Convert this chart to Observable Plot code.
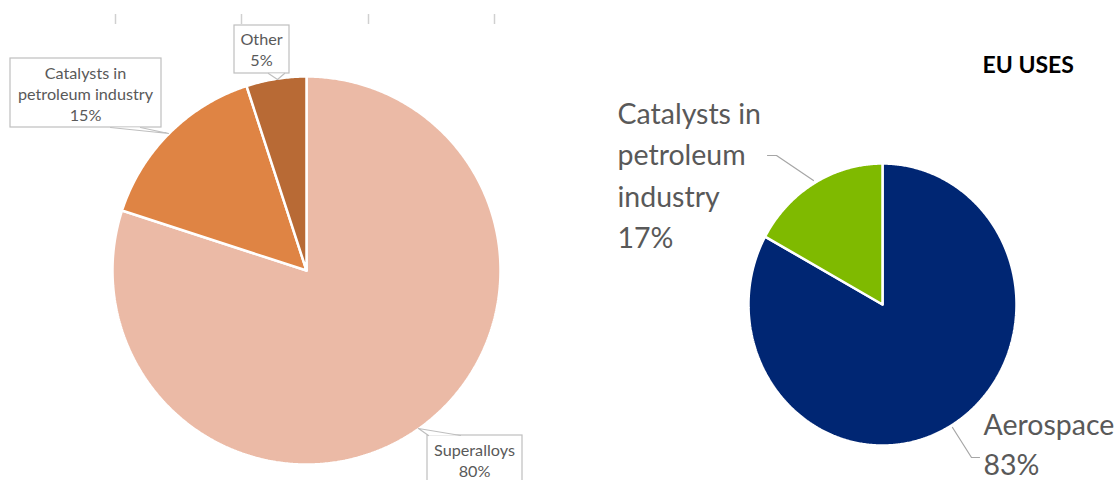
<!DOCTYPE html>
<html><head><meta charset="utf-8">
<script src="https://cdn.jsdelivr.net/npm/d3@7"></script>
<script src="https://cdn.jsdelivr.net/npm/@observablehq/plot@0.6"></script>
<style>
body{margin:0;background:#fff;}
#chart{width:1118px;height:480px;overflow:hidden;}
#chart svg{display:block;}
</style>
</head><body><div id="chart"></div>
<script>
// ---- data ----
const globalCategories = ["Superalloys", "Catalysts in petroleum industry", "Other"];
const globalShares = [80, 15, 5];
const globalColors = ["#EBBAA6", "#DF8444", "#B86A35"];

const euTitle = "EU USES";
const euCategories = ["Aerospace", "Catalysts in petroleum industry"];
const euShares = [83, 17];
const euColors = ["#002673", "#7FBA00"];

// wrapped label lines (text only)
const globalLabelLines = [["Superalloys"], ["Catalysts in", "petroleum industry"], ["Other"]];
const euLabelLines = [["Aerospace"], ["Catalysts in", "petroleum", "industry"]];

// ---- layout ----
const W = 1118, H = 480;
const LEFT = {cx: 306, cy: 270, rx: 194, ry: 194};
const RIGHT = {cx: 882, cy: 304, rx: 134, ry: 141};

function slicePolys(cats, shares, colors, P) {
  const total = d3.sum(shares);
  let acc = 0;
  return cats.map((c, i) => {
    const a0 = acc / total * 2 * Math.PI; acc += shares[i];
    const a1 = acc / total * 2 * Math.PI;
    const n = Math.max(2, Math.ceil((a1 - a0) / (Math.PI / 360)));
    const pts = [{x: P.cx, y: P.cy}];
    for (let k = 0; k <= n; k++) {
      const a = a0 + (a1 - a0) * k / n;
      pts.push({x: P.cx + P.rx * Math.sin(a), y: P.cy - P.ry * Math.cos(a)});
    }
    pts.push({x: P.cx, y: P.cy});
    return {key: c, color: colors[i], pts};
  });
}

const leftSlices = slicePolys(globalCategories, globalShares, globalColors, LEFT);
const rightSlices = slicePolys(euCategories, euShares, euColors, RIGHT);

function labelRecords(linesArr, shares, anchors, fs) {
  const out = [];
  linesArr.forEach((lines, i) => {
    const all = [...lines, shares[i] + "%"];
    const a = anchors[i];
    all.forEach((t, j) => out.push({text: t, x: a.x, y: a.base + j * a.gap - 0.71 * fs}));
  });
  return out;
}
const LFS = 16.2, RFS = 28.5;
const leftLabels = labelRecords(globalLabelLines, globalShares,
  [{x: 474, base: 455, gap: 21}, {x: 85, base: 78, gap: 21}, {x: 261, base: 44, gap: 21}], LFS);
const rightLabels = labelRecords(euLabelLines, euShares,
  [{x: 983, base: 434, gap: 40}, {x: 617, base: 123, gap: 41.5}], RFS);

const boxes = [
  {x1: 234, x2: 289, y1: 25, y2: 73},
  {x1: 10, x2: 161, y1: 58, y2: 127},
  {x1: 427, x2: 522, y1: 435, y2: 495}
];
const pointers = [
  [{x: 268, y: 73}, {x: 277, y: 79}, {x: 284, y: 73}],
  [{x: 110, y: 127}, {x: 168, y: 133}, {x: 140, y: 127}],
  [{x: 428, y: 435}, {x: 418, y: 428}, {x: 460, y: 435}]
];
const leaders = [
  [{x: 767, y: 155}, {x: 776, y: 155}, {x: 813, y: 180}],
  [{x: 952, y: 427}, {x: 971, y: 457}, {x: 979, y: 457}]
];
const cutAxisTicks = [115, 241, 368, 494];

const marks = [];
marks.push(Plot.ruleX(cutAxisTicks, {x: d => d, y1: 14, y2: 24, stroke: "#D0D0D0", strokeWidth: 1.5}));
for (const s of [...leftSlices, ...rightSlices]) {
  marks.push(Plot.line(s.pts, {x: "x", y: "y", fill: s.color, stroke: "white", strokeWidth: 2.5, strokeLinejoin: "miter", curve: "linear"}));
}
marks.push(Plot.rect(boxes, {x1: "x1", x2: "x2", y1: "y1", y2: "y2", fill: "white", stroke: "#BFBFBF", strokeWidth: 1.2}));
for (const p of pointers) {
  marks.push(Plot.line(p, {x: "x", y: "y", fill: "white", stroke: "#BFBFBF", strokeWidth: 1.2, curve: "linear"}));
}
for (const l of leaders) {
  marks.push(Plot.line(l, {x: "x", y: "y", stroke: "#A6A6A6", strokeWidth: 1.2, curve: "linear"}));
}
marks.push(Plot.text(leftLabels, {x: "x", y: "y", text: "text", textAnchor: "middle", lineAnchor: "top",
  fontSize: LFS, fill: "#595959", fontFamily: "Lato"}));
marks.push(Plot.text(rightLabels, {x: "x", y: "y", text: "text", textAnchor: "start", lineAnchor: "top",
  fontSize: RFS, fill: "#595959", fontFamily: "Lato"}));
marks.push(Plot.text([euTitle], {x: 982, y: 72 - 0.71 * 23, text: d => d, textAnchor: "start", lineAnchor: "top",
  fontSize: 23, fontWeight: "bold", fill: "#000", fontFamily: "Lato"}));

const chart = Plot.plot({
  width: W, height: H, margin: 0,
  x: {domain: [0, W], range: [0, W], axis: null},
  y: {domain: [0, H], range: [0, H], axis: null},
  style: {background: "white", fontFamily: "Lato"},
  marks
});
document.getElementById("chart").appendChild(chart);
</script>
</body></html>
